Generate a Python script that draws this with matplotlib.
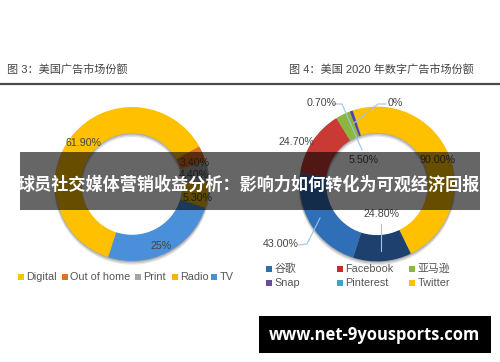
import matplotlib.pyplot as plt
from matplotlib.patches import Rectangle, Wedge

plt.rcParams['font.family'] = ['Liberation Sans', 'Noto Sans CJK SC', 'DejaVu Sans']

# 图3 data
ad_names = ["Digital", "Out of home", "Print", "Radio", "TV"]
ad_share = [61.9, 3.4, 4.4, 5.3, 25.0]
ad_labels = ["61.90%", "3.40%", "4.40%", "5.30%", "25%"]
ad_colors = ["#FFC000", "#E2701C", "#A5A5A5", "#F2B600", "#4A8FDA"]

# 图4 data (slice sizes as drawn, labels as printed)
dig_names = ["谷歌", "Facebook", "亚马逊", "Snap", "Pinterest", "Twitter", ""]
dig_drawn = [22.2, 14.0, 3.1, 0.6, 0.1, 47.8, 12.2]
dig_labels = ["43.00%", "24.70%", "5.50%", "0.70%", "0%", "90.00%", "24.80%"]
dig_colors = ["#2F6FB7", "#C93A35", "#8DB640", "#5E3E9A", "#3AA6CA", "#FFC000", "#1D406E"]

W, H = 500, 362
fig = plt.figure(figsize=(5, 3.62), dpi=100)


def px_axes(zorder):
    a = fig.add_axes([0, 0, 1, 1], zorder=zorder)
    a.set_xlim(0, W)
    a.set_ylim(H, 0)
    a.axis('off')
    a.patch.set_alpha(0)
    return a


def donut(cx, cy, r, sizes, colors):
    a = fig.add_axes([(cx - r) / W, 1 - (cy + r) / H, 2 * r / W, 2 * r / H], zorder=1)
    # soft shadow under the ring
    for k, al in [(0.035, 0.10), (0.022, 0.12), (0.01, 0.15)]:
        a.add_patch(Wedge((0, -k), 1.0 + k * 0.4, 0, 360, width=0.34 + k * 0.8,
                          color="black", alpha=al, lw=0))
    a.pie(sizes, colors=colors, startangle=-108, counterclock=False, radius=1,
          wedgeprops=dict(width=0.34, linewidth=0))
    a.set_xlim(-1.05, 1.05)
    a.set_ylim(-1.05, 1.05)
    return a


donut(132, 184, 80.8, ad_share, ad_colors)
donut(377, 184, 81.3, dig_drawn, dig_colors)

ax = px_axes(2)

# titles and rules
ax.text(7, 69, "图 3：美国广告市场份额", fontsize=8, color="#444444", va="center")
ax.text(289, 69, "图 4：美国 2020 年数字广告市场份额", fontsize=8, color="#444444", va="center")
ax.plot([0, 500], [84, 84], color="#4a4a4a", lw=1.6)

# left labels
lab_color = "#454545"
left_pos = [(84, 143), (195, 163), (194, 175), (198, 198), (161, 246)]
for s, (x, y) in zip(ad_labels, left_pos):
    ax.text(x, y, s, fontsize=7.7, color=lab_color, ha="center", va="center")

# right labels
right_pos = [(281, 244), (296, 142), (364, 160), (322, 103), (395, 103), (437, 160), (382, 214)]
for s, (x, y) in zip(dig_labels, right_pos):
    ax.text(x, y, s, fontsize=7.7, color=lab_color, ha="center", va="center")

# leader lines
lc = "#9DC3E6"
leaders = [
    [(299, 245), (307, 244), (320, 218)],
    [(333, 104), (342, 104), (362, 150)],
    [(386, 104), (378, 104), (354, 123)],
    [(381, 224), (381, 251)],
]
for pts in leaders:
    ax.plot([p[0] for p in pts], [p[1] for p in pts], color=lc, lw=0.8)

# legends
leg_color = "#555555"
lx = [18, 62, 135, 172, 211]
for name, c, x in zip(ad_names, ad_colors, lx):
    ax.add_patch(Rectangle((x, 273.5), 6, 6, color=c, lw=0))
    ax.text(x + 8.5, 277, name, fontsize=7.8, color=leg_color, va="center")

leg_col_x = [266, 337, 409]
leg_row_y = [269, 283]
leg_colors = ["#2E6DB4", "#C0302B", "#8DB83F", "#6A4C9C", "#3BA5C8", "#FFC000"]
for i, name in enumerate(dig_names[:6]):
    x = leg_col_x[i % 3]
    y = leg_row_y[i // 3]
    ax.add_patch(Rectangle((x, y - 3), 6, 6, color=leg_colors[i], lw=0))
    ax.text(x + 8.5, y, name, fontsize=7.8, color=leg_color, va="center")

# overlay banner and watermark
ov = px_axes(3)
ov.add_patch(Rectangle((20, 152), 460, 58, color="black", alpha=0.6, lw=0))
ov.text(249, 185, "球员社交媒体营销收益分析：影响力如何转化为可观经济回报",
        fontsize=12.3, color="white", fontweight="bold", ha="center", va="center",
        family=['Noto Sans CJK SC', 'DejaVu Sans'])
ov.add_patch(Rectangle((259, 316), 232, 37, color="black", lw=0))
ov.text(374, 334.5, "www.net-9yousports.com", fontsize=11.9, color="white",
        fontweight="bold", ha="center", va="center", family=['Open Sans', 'DejaVu Sans'])

fig.savefig("out.png", dpi=100)
